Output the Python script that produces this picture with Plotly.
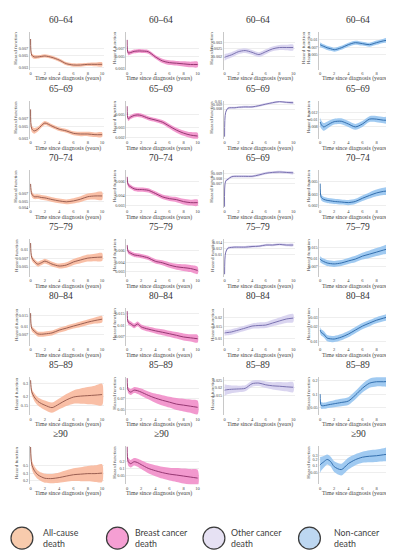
import math
import plotly.graph_objects as go

W, H = 394, 550

# ---------------- data ----------------
T = [0, 0.15, 0.5, 1, 1.5, 2, 3, 4, 5, 6, 7, 8, 9, 10]
X_TICKS = [0, 2, 4, 6, 8, 10]
AGE_GROUPS = ["60–64", "65–69", "70–74", "75–79", "80–84", "85–89", "≥90"]
OTHER_CANCER_TITLES = ["60–64", "65–69", "65–69", "75–79", "80–84", "85–89", None]
CAUSES = ["All-cause<br>death", "Breast cancer<br>death", "Other cancer<br>death", "Non-cancer<br>death"]

# hazard estimates (one list per age group)
ALL_CAUSE = [
    [0.0103, 0.0052, 0.0048, 0.0048, 0.0049, 0.0050, 0.0047, 0.0042, 0.0036, 0.0034, 0.0034, 0.0035, 0.0035, 0.0035],
    [0.0101, 0.0045, 0.0041, 0.0044, 0.0051, 0.0057, 0.0050, 0.0044, 0.0041, 0.0037, 0.0036, 0.0036, 0.0035, 0.0035],
    [0.0106, 0.0070, 0.0062, 0.0062, 0.0060, 0.0059, 0.0055, 0.0052, 0.0050, 0.0052, 0.0056, 0.0062, 0.0064, 0.0064],
    [0.0128, 0.0072, 0.0062, 0.0055, 0.0058, 0.0062, 0.0055, 0.0051, 0.0053, 0.0060, 0.0065, 0.0070, 0.0072, 0.0073],
    [0.0168, 0.0092, 0.0082, 0.0073, 0.0072, 0.0073, 0.0076, 0.0085, 0.0092, 0.0100, 0.0108, 0.0117, 0.0125, 0.0132],
    [0.33, 0.23, 0.195, 0.17, 0.158, 0.15, 0.139, 0.156, 0.177, 0.194, 0.200, 0.203, 0.206, 0.210],
    [1.6, 0.55, 0.37, 0.28, 0.245, 0.224, 0.220, 0.234, 0.257, 0.280, 0.290, 0.300, 0.300, 0.310],
]
ALL_CAUSE_CI = [  # half-width of the 95% band, log scale
    [0.09, 0.09, 0.08, 0.07, 0.07, 0.07, 0.07, 0.07, 0.07, 0.07, 0.07, 0.07, 0.08, 0.09],
    [0.14, 0.13, 0.12, 0.10, 0.09, 0.085, 0.08, 0.08, 0.08, 0.085, 0.09, 0.09, 0.095, 0.10],
    [0.12, 0.12, 0.10, 0.10, 0.10, 0.10, 0.10, 0.10, 0.10, 0.11, 0.12, 0.13, 0.15, 0.17],
    [0.12, 0.11, 0.10, 0.10, 0.10, 0.10, 0.10, 0.10, 0.11, 0.12, 0.13, 0.14, 0.15, 0.16],
    [0.12, 0.11, 0.10, 0.10, 0.10, 0.10, 0.10, 0.10, 0.10, 0.10, 0.11, 0.11, 0.12, 0.13],
    [0.10, 0.10, 0.12, 0.13, 0.14, 0.15, 0.16, 0.17, 0.19, 0.21, 0.24, 0.27, 0.30, 0.34],
    [0.30, 0.30, 0.28, 0.27, 0.27, 0.28, 0.29, 0.32, 0.36, 0.40, 0.44, 0.48, 0.52, 0.56],
]
BREAST = [
    [0.0103, 0.0059, 0.0060, 0.0063, 0.0064, 0.0064, 0.0062, 0.0050, 0.0042, 0.0039, 0.0038, 0.0037, 0.0036, 0.0036],
    [0.00695, 0.0042, 0.0045, 0.0048, 0.0049, 0.0048, 0.0043, 0.0040, 0.00367, 0.00312, 0.00266, 0.00236, 0.00218, 0.0021],
    [0.0069, 0.0055, 0.0052, 0.0049, 0.0048, 0.0048, 0.0047, 0.0043, 0.0039, 0.0037, 0.0036, 0.0034, 0.0033, 0.0033],
    [0.0072, 0.0058, 0.0055, 0.0052, 0.0051, 0.0050, 0.0047, 0.0042, 0.0040, 0.0037, 0.0035, 0.0034, 0.0033, 0.0031],
    [0.0165, 0.0114, 0.0108, 0.0100, 0.0107, 0.0097, 0.0090, 0.0085, 0.0081, 0.0077, 0.0073, 0.0069, 0.0067, 0.0065],
    [0.14, 0.094, 0.088, 0.094, 0.092, 0.088, 0.079, 0.072, 0.067, 0.063, 0.059, 0.057, 0.055, 0.053],
    [0.90, 0.20, 0.16, 0.195, 0.177, 0.145, 0.100, 0.079, 0.065, 0.056, 0.051, 0.046, 0.0415, 0.0375],
]
BREAST_CI = [
    [0.10, 0.10, 0.08, 0.08, 0.08, 0.08, 0.08, 0.08, 0.09, 0.10, 0.10, 0.11, 0.12, 0.12],
    [0.10, 0.09, 0.08, 0.08, 0.08, 0.08, 0.08, 0.08, 0.085, 0.09, 0.10, 0.11, 0.12, 0.13],
    [0.07, 0.065, 0.06, 0.06, 0.06, 0.06, 0.06, 0.06, 0.065, 0.07, 0.075, 0.08, 0.085, 0.09],
    [0.08, 0.075, 0.07, 0.07, 0.07, 0.07, 0.07, 0.075, 0.08, 0.09, 0.10, 0.11, 0.12, 0.12],
    [0.09, 0.085, 0.08, 0.08, 0.08, 0.08, 0.085, 0.09, 0.10, 0.10, 0.11, 0.12, 0.12, 0.13],
    [0.10, 0.10, 0.10, 0.10, 0.11, 0.12, 0.13, 0.15, 0.17, 0.18, 0.20, 0.21, 0.22, 0.23],
    [0.40, 0.40, 0.38, 0.37, 0.40, 0.45, 0.50, 0.55, 0.60, 0.65, 0.70, 0.75, 0.80, 0.85],
]
OTHER_CANCER = [
    [0.00195, 0.00198, 0.00203, 0.0021, 0.0022, 0.0023, 0.00238, 0.00226, 0.00212, 0.0023, 0.0025, 0.0026, 0.0026, 0.0026],
    [0.0036, 0.0072, 0.0082, 0.0083, 0.0083, 0.0084, 0.0085, 0.0085, 0.0088, 0.0092, 0.0096, 0.0099, 0.0097, 0.0096],
    [0.0038, 0.0074, 0.0078, 0.0083, 0.0084, 0.0084, 0.0084, 0.0084, 0.0087, 0.0091, 0.0093, 0.0094, 0.0093, 0.0092],
    [0.0060, 0.0106, 0.0120, 0.0122, 0.0123, 0.0123, 0.0123, 0.0125, 0.0126, 0.0130, 0.0130, 0.0132, 0.0130, 0.0130],
    [0.0119, 0.0120, 0.0121, 0.0123, 0.0127, 0.0131, 0.0140, 0.0150, 0.0153, 0.0155, 0.0166, 0.0178, 0.0190, 0.0196],
    [0.0181, 0.0183, 0.0185, 0.0187, 0.0188, 0.0189, 0.0193, 0.0225, 0.0230, 0.0217, 0.0210, 0.0207, 0.0203, 0.0200],
    None,
]
OTHER_CANCER_CI = [
    [0.10, 0.09, 0.08, 0.075, 0.07, 0.07, 0.07, 0.07, 0.07, 0.07, 0.07, 0.075, 0.08, 0.085],
    [0.04, 0.035, 0.03, 0.03, 0.03, 0.03, 0.03, 0.03, 0.03, 0.03, 0.03, 0.03, 0.03, 0.035],
    [0.04, 0.035, 0.03, 0.03, 0.03, 0.03, 0.03, 0.03, 0.03, 0.03, 0.03, 0.03, 0.03, 0.035],
    [0.04, 0.035, 0.03, 0.03, 0.03, 0.03, 0.03, 0.03, 0.03, 0.03, 0.03, 0.03, 0.035, 0.035],
    [0.09, 0.09, 0.09, 0.09, 0.09, 0.09, 0.09, 0.09, 0.10, 0.10, 0.11, 0.12, 0.13, 0.14],
    [0.20, 0.18, 0.15, 0.13, 0.12, 0.11, 0.10, 0.10, 0.10, 0.11, 0.12, 0.14, 0.15, 0.17],
    None,
]
NON_CANCER = [
    [0.0079, 0.0077, 0.0073, 0.0068, 0.0065, 0.0062, 0.0068, 0.0079, 0.0087, 0.0083, 0.0079, 0.0087, 0.0095, 0.0100],
    [0.0092, 0.0086, 0.0080, 0.0084, 0.0089, 0.0093, 0.0094, 0.0087, 0.0080, 0.0087, 0.0100, 0.0100, 0.0097, 0.0097],
    [0.0046, 0.0027, 0.0025, 0.0024, 0.00235, 0.0023, 0.00225, 0.0022, 0.0023, 0.0026, 0.0029, 0.0032, 0.0034, 0.0035],
    [0.0096, 0.0092, 0.0087, 0.0082, 0.0080, 0.0079, 0.0082, 0.0089, 0.0096, 0.0108, 0.0117, 0.0127, 0.0138, 0.0149],
    [0.0167, 0.0150, 0.0139, 0.0116, 0.0112, 0.0111, 0.0121, 0.0139, 0.0167, 0.0200, 0.0230, 0.0262, 0.0288, 0.0317],
    [0.100, 0.056, 0.055, 0.057, 0.059, 0.061, 0.065, 0.070, 0.095, 0.136, 0.176, 0.190, 0.190, 0.195],
    [0.110, 0.125, 0.150, 0.193, 0.154, 0.093, 0.069, 0.126, 0.188, 0.241, 0.266, 0.280, 0.310, 0.340],
]
NON_CANCER_CI = [
    [0.12, 0.11, 0.10, 0.10, 0.095, 0.095, 0.095, 0.095, 0.095, 0.095, 0.095, 0.10, 0.10, 0.11],
    [0.13, 0.12, 0.11, 0.10, 0.09, 0.085, 0.085, 0.085, 0.085, 0.085, 0.085, 0.09, 0.09, 0.10],
    [0.12, 0.11, 0.10, 0.10, 0.10, 0.10, 0.10, 0.10, 0.10, 0.11, 0.12, 0.13, 0.14, 0.15],
    [0.12, 0.12, 0.12, 0.12, 0.12, 0.12, 0.12, 0.12, 0.13, 0.14, 0.15, 0.16, 0.17, 0.18],
    [0.14, 0.14, 0.14, 0.14, 0.14, 0.14, 0.14, 0.14, 0.14, 0.14, 0.14, 0.14, 0.14, 0.14],
    [0.20, 0.17, 0.16, 0.16, 0.17, 0.18, 0.19, 0.20, 0.21, 0.22, 0.23, 0.24, 0.25, 0.26],
    [0.80, 0.70, 0.60, 0.50, 0.50, 0.55, 0.60, 0.60, 0.55, 0.55, 0.60, 0.62, 0.66, 0.70],
]

# y axis ranges and tick values (hazard) per panel [age][cause]
Y_RANGES = [
    [(0.0028, 0.014), (0.0029, 0.0145), (0.00137, 0.0041), (0.0024, 0.0146)],
    [(0.00296, 0.0144), (0.00189, 0.0086), (0.0034, 0.0101), (0.0057, 0.0169)],
    [(0.0039, 0.019), (0.00285, 0.0084), (0.0037, 0.0099), (0.0018, 0.0078)],
    [(0.0033, 0.015), (0.0025, 0.0088), (0.0056, 0.0152), (0.0047, 0.0214)],
    [(0.0045, 0.0205), (0.0051, 0.0182), (0.0077, 0.0273), (0.0081, 0.0453)],
    [(0.11, 0.362), (0.041, 0.144), (0.0079, 0.0279), (0.034, 0.239)],
    [(0.155, 1.66), (0.0204, 0.91), None, (0.016, 0.717)],
]
Y_TICKS = [
    [[0.003, 0.005, 0.007], [0.003, 0.005, 0.007], [0.002, 0.0025, 0.003], [0.005, 0.007, 0.01]],
    [[0.003, 0.005, 0.007], [0.002, 0.003, 0.005], [0.008, 0.009, 0.01], [0.008, 0.01, 0.012]],
    [[0.004, 0.005, 0.007], [0.003, 0.004, 0.006], [0.007, 0.008, 0.009], [0.002, 0.003, 0.005]],
    [[0.005, 0.007, 0.01], [0.003, 0.004, 0.006], [0.01, 0.012, 0.014], [0.007, 0.01, 0.015]],
    [[0.007, 0.01, 0.015], [0.007, 0.01, 0.015], [0.01, 0.015, 0.02], [0.01, 0.02, 0.03]],
    [[0.15, 0.2, 0.3], [0.05, 0.07, 0.1], [0.015, 0.02, 0.025], [0.05, 0.1, 0.2]],
    [[0.2, 0.3, 0.5], [0.02, 0.05, 0.1, 0.2], None, [0.05, 0.1, 0.2, 0.3]],
]

# ---------------- styling ----------------
BAND_COLORS = ["rgba(248,180,150,0.85)", "rgba(240,135,198,0.85)", "rgba(214,208,238,0.9)", "rgba(150,196,240,0.9)"]
LINE_COLORS = ["#9a5f52", "#963872", "#7a72b0", "#336fae"]
LEGEND_FILLS = ["#f8cbad", "#f59fd3", "#e6e1f3", "#bdd7f1"]
SERIF = "Liberation Serif, Times New Roman, DejaVu Serif, serif"

COL_X = [(22, 96), (119, 192), (217, 288), (313, 386)]
TITLE_X = [53, 154, 251, 352]
XLABEL_X = [60, 152, 253, 349]
YLABEL_X = [8, 107, 205, 302]
ROW_PITCH = 69.6

series = [ALL_CAUSE, BREAST, OTHER_CANCER, NON_CANCER]
cis = [ALL_CAUSE_CI, BREAST_CI, OTHER_CANCER_CI, NON_CANCER_CI]

def px(x):
    return x / W

def py(y):
    return 1 - y / H

fig = go.Figure()
annotations = []
layout_axes = {}
k = 0
for r in range(7):
    dy = r * ROW_PITCH
    y0, y1 = 22 + dy, 60 + dy
    for c in range(4):
        mid = series[c][r]
        if mid is None:
            continue
        k += 1
        xa = "x" if k == 1 else f"x{k}"
        ya = "y" if k == 1 else f"y{k}"
        w = cis[c][r]
        upper = [m * math.exp(s) for m, s in zip(mid, w)]
        lower = [m * math.exp(-s) for m, s in zip(mid, w)]
        fig.add_trace(go.Scatter(
            x=T + T[::-1], y=upper + lower[::-1], xaxis=xa, yaxis=ya,
            fill="toself", fillcolor=BAND_COLORS[c], mode="lines",
            line=dict(width=0, shape="spline", smoothing=0.8),
            hoverinfo="skip", showlegend=False))
        fig.add_trace(go.Scatter(
            x=T, y=mid, xaxis=xa, yaxis=ya, mode="lines",
            line=dict(color=LINE_COLORS[c], width=1, shape="spline", smoothing=0.8),
            showlegend=False))
        x0, x1 = COL_X[c]
        lo, hi = Y_RANGES[r][c]
        ticks = Y_TICKS[r][c]
        layout_axes["xaxis" if k == 1 else f"xaxis{k}"] = dict(
            domain=[px(x0), px(x1)], anchor=ya, range=[-0.1, 10.2],
            tickvals=X_TICKS, ticktext=[str(v) for v in X_TICKS],
            tickfont=dict(family=SERIF, size=4.5, color="#444"),
            showgrid=False, zeroline=False, showline=False, ticks="", ticklabelstandoff=0)
        layout_axes["yaxis" if k == 1 else f"yaxis{k}"] = dict(
            domain=[py(y1), py(y0)], anchor=xa, type="log",
            range=[math.log10(lo), math.log10(hi)],
            tickvals=ticks, ticktext=[f"{v:g}" for v in ticks],
            tickfont=dict(family=SERIF, size=4.2, color="#444"),
            showgrid=True, gridcolor="#eeeeee", gridwidth=0.5, zeroline=False,
            showline=True, linecolor="#c8c8c8", linewidth=0.8, ticks="")
        title = AGE_GROUPS[r] if c != 2 else OTHER_CANCER_TITLES[r]
        annotations.append(dict(x=px(TITLE_X[c]), y=py(10 + dy), xref="paper", yref="paper",
                                text=title, showarrow=False, xanchor="center", yanchor="middle",
                                font=dict(family=SERIF, size=9.5, color="#333")))
        annotations.append(dict(x=px(XLABEL_X[c]), y=py(69.5 + dy), xref="paper", yref="paper",
                                text="Time since diagnosis (years)", showarrow=False,
                                xanchor="center", yanchor="middle",
                                font=dict(family=SERIF, size=5.8, color="#444")))
        annotations.append(dict(x=px(YLABEL_X[c]), y=py(38 + dy), xref="paper", yref="paper",
                                text="Hazard function", showarrow=False, textangle=-90,
                                xanchor="center", yanchor="middle",
                                font=dict(family=SERIF, size=5, color="#444")))

# second y-label printed on the right of the first other-cancer panel
annotations.append(dict(x=px(297), y=py(38), xref="paper", yref="paper",
                        text="Hazard function", showarrow=False, textangle=-90,
                        xanchor="center", yanchor="middle",
                        font=dict(family=SERIF, size=5, color="#444")))

# legend: circles with labels
shapes = []
LEG_CX = [14, 110, 207, 303]
LEG_TX = [33, 126, 222, 326]
LEG_CY, LEG_R = 532, 11
for i in range(4):
    cx = LEG_CX[i]
    shapes.append(dict(type="circle", xref="paper", yref="paper",
                       x0=px(cx - LEG_R), x1=px(cx + LEG_R), y0=py(LEG_CY + LEG_R), y1=py(LEG_CY - LEG_R),
                       fillcolor=LEGEND_FILLS[i], line=dict(color="#3a3a3a", width=1.2)))
    annotations.append(dict(x=px(LEG_TX[i]), y=py(LEG_CY), xref="paper", yref="paper",
                            text=CAUSES[i], showarrow=False, xanchor="left", yanchor="middle",
                            align="left", font=dict(family="Lato", size=8.8, color="#404040")))

fig.update_layout(
    width=W, height=H, margin=dict(l=0, r=0, t=0, b=0),
    paper_bgcolor="white", plot_bgcolor="white",
    annotations=annotations, shapes=shapes, showlegend=False, **layout_axes)

fig.write_html("out.html")
